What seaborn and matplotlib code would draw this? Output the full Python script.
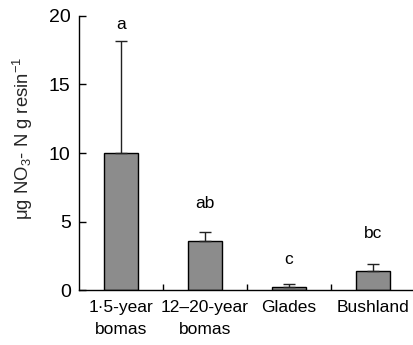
import matplotlib
matplotlib.use("Agg")
import matplotlib.pyplot as plt
import seaborn as sns
import pandas as pd
import numpy as np
from matplotlib.ticker import FixedLocator

# Resin-extractable nitrate by site type
sites = ["1\u00b75-year\nbomas", "12\u201320-year\nbomas", "Glades", "Bushland"]
nitrate_mean = [10.0, 3.58, 0.24, 1.41]
nitrate_se = [8.2, 0.68, 0.18, 0.51]
sig_letters = ["a", "ab", "c", "bc"]
letter_y = [19.4, 6.3, 2.2, 4.1]

sns.set_theme(style="ticks")
plt.rcParams["font.family"] = ["Liberation Sans", "DejaVu Sans"]
plt.rcParams["mathtext.fontset"] = "custom"
plt.rcParams["mathtext.rm"] = "Liberation Sans"
plt.rcParams["mathtext.it"] = "Liberation Sans:italic"
plt.rcParams["mathtext.bf"] = "Liberation Sans:bold"

df = pd.DataFrame({"site": sites, "nitrate": nitrate_mean})

fig = plt.figure(figsize=(4.14, 3.45), dpi=100)
ax = fig.add_axes([0.191, 0.159, 0.811, 0.795])

sns.barplot(data=df, x="site", y="nitrate", color="#8c8c8c", saturation=1,
            width=0.4, edgecolor="black", linewidth=1.0, errorbar=None, ax=ax)

xpos = np.arange(len(sites))
ax.errorbar(xpos, nitrate_mean,
            yerr=[np.zeros(len(sites)), nitrate_se],
            fmt="none", ecolor="#222222", elinewidth=1.0,
            capsize=4.5, capthick=1.0, zorder=1)

for x, lab, y in zip(xpos, sig_letters, letter_y):
    ax.text(x, y, lab, ha="center", va="center", fontsize=12.5, color="black")

ax.set_xlim(-0.5, 3.5)
ax.set_ylim(0, 20)
ax.set_yticks([0, 5, 10, 15, 20])
ax.tick_params(axis="y", direction="in", length=5, width=1, labelsize=14,
               pad=6, colors="black")
ax.tick_params(axis="x", which="major", length=0, labelsize=12.5, pad=7,
               colors="black")
ax.xaxis.set_minor_locator(FixedLocator([0.5, 1.5, 2.5]))
ax.tick_params(axis="x", which="minor", direction="in", length=4, width=1,
               color="black")
for lab in ax.get_xticklabels():
    lab.set_linespacing(1.6)

ax.set_xlabel("")
ax.set_ylabel("\u03bcg NO$_3$- N g resin$^{-1}$", fontsize=13.3)
ax.yaxis.set_label_coords(-0.132, 0.555)

for side in ["top", "right"]:
    ax.spines[side].set_visible(False)
for side in ["left", "bottom"]:
    ax.spines[side].set_color("black")
    ax.spines[side].set_linewidth(1.0)

fig.savefig("out.png", dpi=100)
